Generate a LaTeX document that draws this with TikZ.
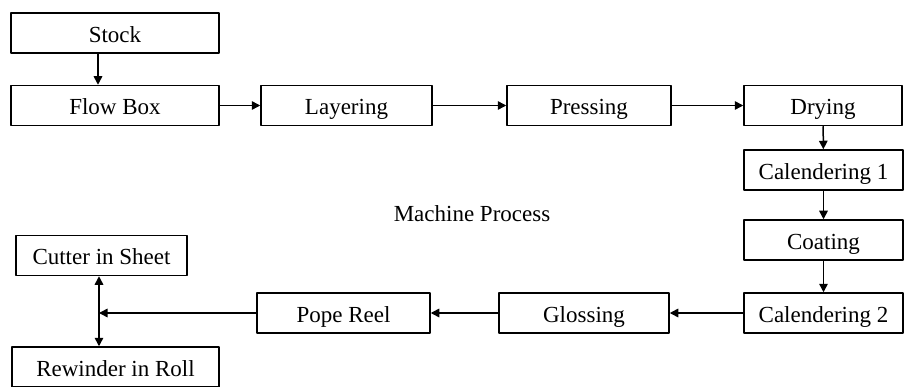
\documentclass[tikz,border=0pt]{standalone}
\usepackage{fontspec}
\setmainfont{Liberation Serif}
\usetikzlibrary{arrows.meta}
\begin{document}
\begin{tikzpicture}[x=1pt, y=-1pt, line join=round, >={Triangle[length=8.5pt,width=8.5pt]},
		font=\fontsize{23}{26}\selectfont,
		stage/.style={draw, line width=1.5pt, minimum height=40pt, inner sep=0pt, text height=19pt, text depth=0pt},
		flow/.style={->, line width=1.5pt}]
			\useasboundingbox (0,0) rectangle (904,387);
			% top row
			\node[stage, minimum width=208pt] (stock) at (115,33) {Stock};
			\node[stage, minimum width=208pt] (flowbox) at (115,105.5) {Flow Box};
			\node[stage, minimum width=171pt] (layer) at (346.5,105.5) {Layering};
			\node[stage, minimum width=164pt] (press) at (589,105.5) {Pressing};
			\node[stage, minimum width=158pt] (dry) at (823,105.5) {Drying};
			% right column
			\node[stage, minimum width=159pt] (cal1) at (823.5,170) {Calendering 1};
			\node[stage, minimum width=159pt] (coat) at (823.5,240) {Coating};
			\node[stage, minimum width=159pt] (cal2) at (823.5,313) {Calendering 2};
			% bottom row
			\node[stage, minimum width=170pt] (gloss) at (584,313) {Glossing};
			\node[stage, minimum width=173pt] (pope) at (343.5,313) {Pope Reel};
			\node[stage, minimum width=171pt] (cutter) at (101.5,255.5) {Cutter in Sheet};
			\node[stage, minimum width=207pt] (rewind) at (115.5,367) {Rewinder in Roll};
			\node (title) at (472,214) {Machine Process};
			\coordinate (split) at (99,313);
			\draw[flow] (stock.south -| 98,0) -- (flowbox.north -| 98,0);
			\draw[flow] (flowbox) -- (layer);
			\draw[flow] (layer) -- (press);
			\draw[flow] (press) -- (dry);
			\draw[flow] (dry) -- (cal1);
			\draw[flow] (cal1) -- (coat);
			\draw[flow] (coat) -- (cal2);
			\draw[flow] (cal2) -- (gloss);
			\draw[flow] (gloss) -- (pope);
			\draw[flow] (pope) -- (split);
			\draw[<->, line width=1.5pt] (split |- cutter.south) -- (split |- rewind.north);
		\end{tikzpicture}
\end{document}
